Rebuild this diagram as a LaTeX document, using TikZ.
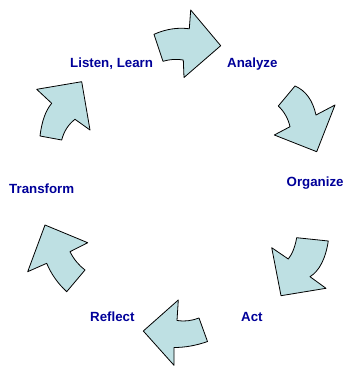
\documentclass[tikz,border=0pt]{standalone}
\usepackage{fontspec}
\setmainfont{Liberation Sans}
\definecolor{arrowfill}{RGB}{190,224,227}
\definecolor{labelblue}{RGB}{0,0,153}
\begin{document}
\begin{tikzpicture}[x=1pt,y=-1pt,
  blockarrow/.style={draw=black,fill=arrowfill,line width=0.8pt,line join=round},
  lbl/.style={anchor=base west,inner sep=0pt,text=labelblue,font=\bfseries\fontsize{13.3}{15}\selectfont}]
\useasboundingbox (0,0) rectangle (344,366);
% arrow 1 (top)
\draw[blockarrow] (154,34.3) .. controls (165.8,29.1) and (177.5,27.2) .. (189.3,28.8) -- (190.7,10) -- (220.7,45.7)
  -- (184,77.5) -- (183.3,60) .. controls (176.5,58.8) and (169.8,59.3) .. (163,61.3) -- cycle;
% arrow 2 (upper right)
\draw[blockarrow] (295,86) .. controls (305.7,90.6) and (312.7,100.2) .. (316,115) -- (335,105) -- (316.7,151.7)
  -- (274.3,135) -- (290,126.7) .. controls (288.1,118.5) and (284.2,111.6) .. (278.3,106) -- cycle;
% arrow 3 (lower right)
\draw[blockarrow] (296.7,237.7) -- (328.3,241) .. controls (325.5,258.9) and (319.4,270.8) .. (310,276.7) -- (326,288.3)
  -- (281,295.7) -- (271.7,247.7) -- (288.3,259) .. controls (292.2,254.1) and (295,247) .. cycle;
% arrow 4 (bottom)
\draw[blockarrow] (178.3,300) -- (177,320.5) .. controls (184.3,321.7) and (191.7,320.8) .. (199,318) -- (207.5,341.5)
  .. controls (196.3,345.5) and (185.2,347.5) .. (174,347.5) -- (174,365.3) -- (143.3,331) -- cycle;
% arrow 5 (lower left)
\draw[blockarrow] (45,225) -- (87.7,242.7) -- (70,251.7) .. controls (73.7,259.1) and (78.7,265.2) .. (85,270)
  -- (66.7,291.7) .. controls (57.7,283.3) and (51.1,273.9) .. (46.7,263.3) -- (27.7,271.7) -- cycle;
% arrow 6 (upper left)
\draw[blockarrow] (36.7,89.3) -- (81.7,81.7) -- (90,130) -- (75,119.3) .. controls (68.4,124.4) and (63.9,131.3) .. (61.7,140)
  -- (40,136) .. controls (41.8,121.2) and (45.7,110.3) .. (51.7,103.3) -- cycle;
% labels
\node[lbl] (listen) at (70,67.5) {Listen, Learn};
\node[lbl] (analyze) at (227,67.5) {Analyze};
\node[lbl] (organize) at (286.5,186.5) {Organize};
\node[lbl] (transform) at (9,193.5) {Transform};
\node[lbl] (reflect) at (90,321.5) {Reflect};
\node[lbl] (act) at (241,321.5) {Act};
\end{tikzpicture}
\end{document}
